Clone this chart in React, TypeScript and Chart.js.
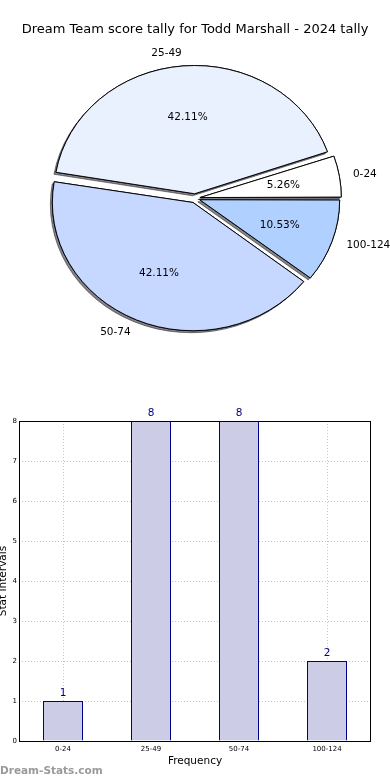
import React, { useEffect, useRef } from 'react';
import { Chart, registerables } from 'chart.js';

Chart.register(...registerables);

const titleText = 'Dream Team score tally for Todd Marshall - 2024 tally';
const categories = ['0-24', '25-49', '50-74', '100-124'];
const counts = [1, 8, 8, 2];
const pieColors = ['#ffffff', '#e9f0fe', '#c6d8ff', '#b0d0ff'];
const yTickMax = 8;
const xAxisTitle = 'Frequency';
const yAxisTitle = 'Stat Intervals';
const watermark = 'Dream-Stats.com';

const FONT = "'DejaVu Sans', 'Liberation Sans', sans-serif";
const SY = 0.912; // vertical squash of the pie (ellipse)

export default function App() {
  const pieRef = useRef<HTMLCanvasElement | null>(null);
  const barRef = useRef<HTMLCanvasElement | null>(null);

  useEffect(() => {
    document.body.style.margin = '0';
    Chart.defaults.font.family = FONT;
    const total = counts.reduce((a, b) => a + b, 0);
    // Chart.js draws clockwise from 3 o'clock with rotation 90; reverse to mimic CCW order
    const order = [3, 2, 1, 0];

    const ellipsePlugin = {
      id: 'ellipsePie',
      beforeDatasetsDraw(chart: any) {
        const ctx = chart.ctx;
        const arcs = chart.getDatasetMeta(0).data as any[];
        ctx.save();
        if (!arcs.length) return;
        const cx = arcs[0].x, cy = arcs[0].y;
        ctx.translate(cx, cy);
        ctx.scale(1, SY);
        ctx.translate(-cx, -cy);
        ctx.save();
        ctx.shadowColor = 'rgba(30,30,40,0.55)';
        ctx.shadowOffsetX = -2;
        ctx.shadowOffsetY = 2;
        ctx.shadowBlur = 0;
        arcs.forEach((a) => a.draw(ctx));
        ctx.restore();
      },
      afterDatasetsDraw(chart: any) {
        const ctx = chart.ctx;
        ctx.restore();
        const arcs = chart.getDatasetMeta(0).data as any[];
        ctx.save();
        ctx.fillStyle = '#000';
        ctx.font = `10.5px ${FONT}`;
        ctx.textBaseline = 'middle';
        arcs.forEach((a, k) => {
          const i = order[k];
          const cx = a.x, cy = a.y;
          const mid = (a.startAngle + a.endAngle) / 2;
          const shift = (a.options.offset || 0) / 4;
          const R = a.outerRadius + 3;
          const c = Math.cos(mid), s = Math.sin(mid);
          const lx = cx + c * (1.1 * R + shift);
          const ly = cy + s * (1.1 * R + shift) * SY;
          ctx.textAlign = c >= 0 ? 'left' : 'right';
          ctx.fillText(categories[i], lx, ly);
          const px = cx + c * (0.6 * R + shift);
          const py = cy + s * (0.6 * R + shift) * SY;
          ctx.textAlign = 'center';
          ctx.fillText(((counts[i] / total) * 100).toFixed(2) + '%', px, py);
        });
        ctx.restore();
      },
    };

    const pie = new Chart(pieRef.current as HTMLCanvasElement, {
      type: 'pie',
      data: {
        labels: order.map((i) => categories[i]),
        datasets: [
          {
            data: order.map((i) => counts[i]),
            backgroundColor: order.map((i) => pieColors[i]),
            borderColor: '#000000',
            borderWidth: 1,
            offset: 20,
          },
        ],
      },
      options: {
        responsive: false,
        animation: false,
        events: [],
        rotation: 90,
        radius: 138,
        layout: { padding: 0 },
        plugins: {
          legend: { display: false },
          tooltip: { enabled: false },
          title: {
            display: true,
            text: titleText,
            color: '#000',
            font: { size: 13, weight: 'normal', lineHeight: 1.2 },
            padding: { top: 22, bottom: 0 },
          },
        },
      } as any,
      plugins: [ellipsePlugin as any],
    });

    const barPlugin = {
      id: 'barExtras',
      afterDatasetsDraw(chart: any) {
        const ctx = chart.ctx;
        const bars = chart.getDatasetMeta(0).data as any[];
        ctx.save();
        ctx.fillStyle = '#000080';
        ctx.font = `10.5px ${FONT}`;
        ctx.textAlign = 'center';
        ctx.textBaseline = 'alphabetic';
        bars.forEach((b, i) => {
          ctx.fillText(String(counts[i]), b.x, b.y - 5);
        });
        const a = chart.chartArea;
        ctx.strokeStyle = '#000';
        ctx.lineWidth = 1;
        ctx.strokeRect(Math.round(a.left) + 0.5, Math.round(a.top) + 0.5, Math.round(a.right - a.left) - 1, Math.round(a.bottom - a.top));
        ctx.restore();
      },
    };

    const gridOpts = { color: '#c4c4c4', lineWidth: 1, drawTicks: false };
    const bar = new Chart(barRef.current as HTMLCanvasElement, {
      type: 'bar',
      data: {
        labels: categories,
        datasets: [
          {
            data: counts,
            backgroundColor: '#ccccE6',
            borderColor: '#00008b',
            borderWidth: 1,
            categoryPercentage: 1,
            barPercentage: 40 / 88,
          },
        ],
      },
      options: {
        responsive: false,
        animation: false,
        events: [],
        layout: { padding: { top: 31, right: 19, left: 0, bottom: 0 } },
        plugins: { legend: { display: false }, tooltip: { enabled: false } },
        scales: {
          x: {
            offset: true,
            grid: { ...gridOpts, offset: false },
            border: { display: false, dash: [1, 2] },
            ticks: { font: { size: 7 }, color: '#000', padding: 4, maxRotation: 0 },
            title: {
              display: true,
              text: xAxisTitle,
              color: '#000',
              font: { size: 10.5, lineHeight: 1.2 },
              padding: { top: 0, bottom: 12 },
            },
            afterFit: (s: any) => {
              s.height = 39;
            },
          },
          y: {
            min: 0,
            max: yTickMax,
            grid: gridOpts,
            border: { display: false, dash: [1, 2] },
            ticks: { stepSize: 1, font: { size: 7 }, color: '#000', padding: 2 },
            title: {
              display: true,
              text: yAxisTitle,
              color: '#000',
              font: { size: 10.5, lineHeight: 1 },
              padding: { top: -2, bottom: 0 },
            },
            afterFit: (s: any) => {
              s.width = 19;
            },
          },
        },
      } as any,
      plugins: [barPlugin as any],
    });

    return () => {
      pie.destroy();
      bar.destroy();
    };
  }, []);

  return (
    <div style={{ position: 'fixed', left: 0, top: 0, width: 390, height: 780, background: '#fff', overflow: 'hidden' }}>
      <canvas ref={pieRef} width={390} height={359} style={{ position: 'absolute', left: 0, top: 0 }} />
      <canvas ref={barRef} width={390} height={390} style={{ position: 'absolute', left: 0, top: 390 }} />
      <div
        style={{
          position: 'absolute',
          left: 0,
          top: 763,
          fontFamily: FONT,
          fontWeight: 'bold',
          fontSize: 10.5,
          color: '#9a9a9a',
          lineHeight: '14px',
          whiteSpace: 'nowrap',
        }}
      >
        {watermark}
      </div>
    </div>
  );
}
